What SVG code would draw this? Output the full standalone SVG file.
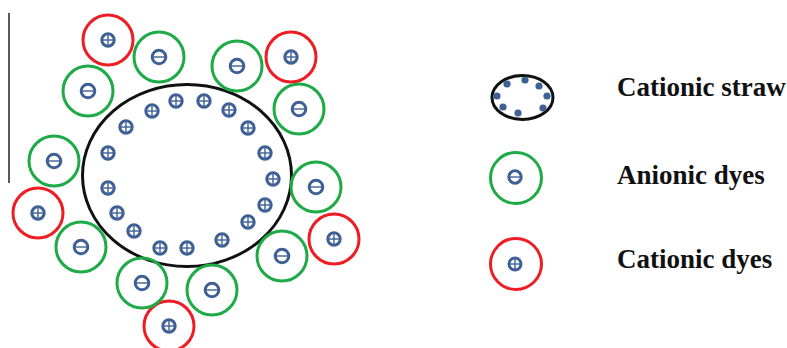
<svg xmlns="http://www.w3.org/2000/svg" width="787" height="348" viewBox="0 0 787 348">
<style>
.sym{fill:none;stroke:#3f6096;stroke-width:3}
.x{stroke:#3f6096;stroke-width:1.4}
.g{fill:none;stroke:#1faa48;stroke-width:3}
.r{fill:none;stroke:#ee1d23;stroke-width:3}
.dot{fill:#3f6096}
.lbl{font-family:"Liberation Serif","Times New Roman",serif;font-weight:bold;font-size:27px;fill:#111111}
</style>
<defs>
<g id="plus"><circle class="sym" r="6.2"/><line class="x" x1="-6.2" y1="0" x2="6.2" y2="0"/><line class="x" x1="0" y1="-6.2" x2="0" y2="6.2"/></g>
<g id="minus"><circle class="sym" r="6.8"/><line class="x" x1="-6.8" y1="0" x2="6.8" y2="0"/></g>
<g id="plus-s"><circle class="sym" r="6" stroke-width="2.8"/><line class="x" x1="-6" y1="0" x2="6" y2="0"/><line class="x" x1="0" y1="-6" x2="0" y2="6"/></g>
<g id="minus-s"><circle class="sym" r="6.2" stroke-width="2.8"/><line class="x" x1="-6.2" y1="0" x2="6.2" y2="0"/></g>
</defs>
<rect width="787" height="348" fill="#ffffff"/>
<line x1="9" y1="13" x2="9" y2="183" stroke="#222" stroke-width="1.5"/>
<g id="straw">
<ellipse cx="187" cy="175.5" rx="104.5" ry="91" fill="none" stroke="#111" stroke-width="3"/>
<use href="#plus" x="176" y="101"/><use href="#plus" x="204" y="101"/>
<use href="#plus" x="152" y="111"/><use href="#plus" x="229" y="110"/>
<use href="#plus" x="126" y="127"/><use href="#plus" x="248" y="128"/>
<use href="#plus" x="108" y="153"/><use href="#plus" x="265" y="153"/>
<use href="#plus" x="273" y="179"/><use href="#plus" x="108" y="188"/>
<use href="#plus" x="117" y="213"/><use href="#plus" x="265" y="205"/>
<use href="#plus" x="248" y="222"/><use href="#plus" x="134" y="231"/>
<use href="#plus" x="222" y="240"/><use href="#plus" x="160" y="248"/>
<use href="#plus" x="187" y="248"/>
</g>
<g id="cationic-dyes">
<circle class="r" cx="108" cy="40" r="25"/><use href="#plus" x="108" y="40"/>
<circle class="r" cx="291" cy="57" r="25"/><use href="#plus" x="291" y="57"/>
<circle class="r" cx="38" cy="213" r="25"/><use href="#plus" x="38" y="213"/>
<circle class="r" cx="334" cy="239" r="25"/><use href="#plus" x="334" y="239"/>
<circle class="r" cx="169" cy="326" r="25"/><use href="#plus" x="169" y="326"/>
</g>
<g id="anionic-dyes">
<circle class="g" cx="159" cy="57" r="25"/><use href="#minus" x="159" y="57"/>
<circle class="g" cx="88" cy="91" r="25"/><use href="#minus" x="88" y="91"/>
<circle class="g" cx="237" cy="66" r="25"/><use href="#minus" x="237" y="66"/>
<circle class="g" cx="299" cy="109" r="25"/><use href="#minus" x="299" y="109"/>
<circle class="g" cx="54" cy="161" r="25"/><use href="#minus" x="54" y="161"/>
<circle class="g" cx="316" cy="187" r="25"/><use href="#minus" x="316" y="187"/>
<circle class="g" cx="81" cy="247" r="25"/><use href="#minus" x="81" y="247"/>
<circle class="g" cx="282" cy="256" r="25"/><use href="#minus" x="282" y="256"/>
<circle class="g" cx="142" cy="283" r="25"/><use href="#minus" x="142" y="283"/>
<circle class="g" cx="212" cy="290" r="25"/><use href="#minus" x="212" y="290"/>
</g>
<g id="legend-straw">
<ellipse cx="522.5" cy="97.5" rx="30.5" ry="22" fill="none" stroke="#111" stroke-width="3"/>
<circle class="dot" cx="507" cy="84" r="3.6"/><circle class="dot" cx="525" cy="80" r="3.6"/>
<circle class="dot" cx="539" cy="86" r="3.6"/><circle class="dot" cx="547" cy="96" r="3.6"/>
<circle class="dot" cx="543" cy="108" r="3.6"/><circle class="dot" cx="518" cy="113" r="3.6"/>
<circle class="dot" cx="503" cy="107" r="3.6"/><circle class="dot" cx="497" cy="96" r="3.6"/>
<text class="lbl" x="617" y="96">Cationic straw</text>
</g>
<g id="legend-anionic">
<circle class="g" cx="516" cy="178" r="25.5"/><use href="#minus-s" x="515" y="177"/>
<text class="lbl" x="617" y="184">Anionic dyes</text>
</g>
<g id="legend-cationic">
<circle class="r" cx="516" cy="264" r="25.5"/><use href="#plus-s" x="515" y="264"/>
<text class="lbl" x="617" y="268">Cationic dyes</text>
</g>
</svg>
